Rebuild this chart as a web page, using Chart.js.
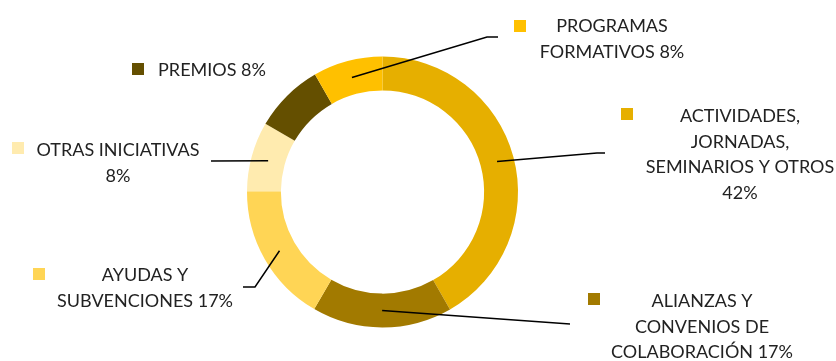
<!DOCTYPE html>
<html>
<head>
<meta charset="utf-8">
<script src="https://cdn.jsdelivr.net/npm/chart.js@4"></script>
<style>
  html, body { margin: 0; padding: 0; background: #fff; }
  #wrap { width: 836px; height: 361px; }
</style>
</head>
<body>
<div id="wrap"><canvas id="donut" width="836" height="361"></canvas></div>
<script>
// datos
const categories = [
  ['ACTIVIDADES,', 'JORNADAS,', 'SEMINARIOS Y OTROS'],
  ['ALIANZAS Y', 'CONVENIOS DE', 'COLABORACIÓN'],
  ['AYUDAS Y', 'SUBVENCIONES'],
  ['OTRAS INICIATIVAS'],
  ['PREMIOS'],
  ['PROGRAMAS', 'FORMATIVOS']
];
const values = [41.7, 16.7, 16.7, 8.3, 8.3, 8.3];
const percentLabels = ['42%', '17%', '17%', '8%', '8%', '8%'];
const colors = ['#E6AF00', '#A27A00', '#FFD555', '#FFEBAF', '#644F00', '#FFC000'];

// posiciones de las etiquetas (marcador, texto, línea guía)
const labelLayout = [
  { box: [621, 108], cx: 740, y: 116, pctNewLine: true,  line: [[597, 153], [605, 153]] },
  { box: [588, 293], cx: 702, y: 301, pctNewLine: false, line: [[570, 324]] },
  { box: [33, 268],  cx: 145, y: 275, pctNewLine: false, line: [[255, 287], [243, 287]] },
  { box: [12, 142],  cx: 118, y: 150, pctNewLine: true,  line: [[211, 161]] },
  { box: [132, 63],  cx: 212, y: 70,  pctNewLine: false, line: null },
  { box: [514, 20],  cx: 612, y: 26,  pctNewLine: false, line: [[487, 37], [498, 37]] }
];

const FONT = '18px Lato';
const LINE_H = 25.7;

const outsideLabels = {
  id: 'outsideLabels',
  afterDraw(chart) {
    const ctx = chart.ctx;
    const arcs = chart.getDatasetMeta(0).data;
    ctx.save();
    arcs.forEach((arc, i) => {
      const lay = labelLayout[i];
      // línea guía
      if (lay.line) {
        const p = arc.getCenterPoint();
        ctx.beginPath();
        ctx.moveTo(p.x, p.y);
        lay.line.forEach(pt => ctx.lineTo(pt[0], pt[1]));
        ctx.strokeStyle = '#000';
        ctx.lineWidth = 1.5;
        ctx.stroke();
      }
      // marcador
      ctx.fillStyle = colors[i];
      ctx.fillRect(lay.box[0], lay.box[1], 12, 12);
      // texto
      const lines = categories[i].slice();
      if (lay.pctNewLine) lines.push(percentLabels[i]);
      else lines[lines.length - 1] += ' ' + percentLabels[i];
      ctx.fillStyle = '#222';
      ctx.font = FONT;
      ctx.textAlign = 'center';
      ctx.textBaseline = 'middle';
      lines.forEach((t, k) => ctx.fillText(t, lay.cx, lay.y + k * LINE_H));
    });
    ctx.restore();
  }
};

new Chart(document.getElementById('donut'), {
  type: 'doughnut',
  data: {
    labels: categories,
    datasets: [{
      data: values,
      backgroundColor: colors,
      borderWidth: 0
    }]
  },
  options: {
    responsive: false,
    animation: false,
    cutout: '75%',
    layout: { padding: { left: 247, right: 318, top: 56.5, bottom: 33.5 } },
    plugins: {
      legend: { display: false },
      tooltip: { enabled: false }
    }
  },
  plugins: [outsideLabels]
});
</script>
</body>
</html>
